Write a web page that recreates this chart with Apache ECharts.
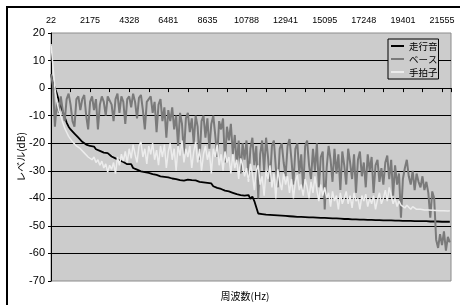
<!DOCTYPE html>
<html>
<head>
<meta charset="utf-8">
<script src="https://cdn.jsdelivr.net/npm/echarts@6/dist/echarts.min.js"></script>
<style>
  html, body { margin: 0; padding: 0; background: #fff; }
  #chart { width: 460px; height: 305px; }
</style>
</head>
<body>
<div id="chart"></div>
<script>
// frequency labels shown along the top, one every 100 FFT bins
const FREQ_LABELS = ['22', '2175', '4328', '6481', '8635', '10788', '12941', '15095', '17248', '19401', '21555'];
const SERIES_NAMES = ['走行音', 'ベース', '手拍子'];
// one reading every 5 bins (bin 0 = 22 Hz), level in dB
const BIN_STEP = 5;

const RUNNING = [
  5, 2, 0, -2, -4.5, -6.5, -8.5, -10.5, -12.5, -14,
  -15, -15.5, -16.5, -17, -18, -18.5, -19.5, -19.8, -20.5, -20.5,
  -21, -21.6, -21.2, -22.2, -21.8, -22.8, -22.4, -23.4, -23, -23.6,
  -23.8, -24.8, -24.2, -25.5, -25, -26.2, -25.8, -26.8, -26.4, -27.6,
  -28, -27.6, -29, -28.5, -29.6, -29, -30.2, -29.6, -30.5, -30,
  -30.8, -30.2, -31.2, -30.6, -31.5, -31, -32, -31.4, -32.2, -31.6,
  -32.4, -32, -32.8, -32.2, -33, -32.6, -33.4, -32.8, -33.6, -33,
  -33.2, -32.6, -33.4, -32.8, -33.5, -33, -34, -33.4, -34.2, -34.6,
  -34.4, -35, -34.6, -35.6, -35.2, -36.2, -35.8, -36.6, -36.2, -37.2,
  -36.8, -37.5, -37, -38, -37.6, -38.5, -38, -38.8, -38.2, -39,
  -39.5, -38.8, -40.2, -39.4, -41, -40.5,
  -45.5, -45.6, -45.7, -45.8, -45.9, -46, -46, -46.1, -46.1, -46.2,
  -46.2, -46.3, -46.3, -46.4, -46.4, -46.5, -46.5, -46.5, -46.6, -46.6,
  -46.7, -46.7, -46.7, -46.8, -46.8, -46.8, -46.9, -46.9, -46.9, -47,
  -47, -47, -47.1, -47.1, -47.1, -47.2, -47.2, -47.2, -47.3, -47.3,
  -47.3, -47.4, -47.4, -47.4, -47.5, -47.5, -47.5, -47.5, -47.6, -47.6,
  -47.6, -47.6, -47.7, -47.7, -47.7, -47.7, -47.8, -47.8, -47.8, -47.8,
  -47.9, -47.9, -47.9, -47.9, -48, -48, -48, -48, -48, -48.1,
  -48.1, -48.1, -48.1, -48.1, -48.2, -48.2, -48.2, -48.2, -48.2, -48.2,
  -48.3, -48.3, -48.3, -48.3, -48.3, -48.3, -48.3, -48.4, -48.4, -48.4,
  -48.4, -48.4, -48.4, -48.4, -48.5, -48.5, -48.5, -48.5, -48.5
];

const BASS = [
  5, 1, -14, -5, -9, -3, -8, -12, -4, -2,
  -6, -12, -14, -4, -3, -8, -4, -2.5, -10, -15,
  -5, -3, -8, -4, -15, -6, -3, -5, -10, -3,
  -2.5, -6, -12, -4, -2, -9, -3, -5, -13, -4,
  -3, -7, -2, -5, -11, -3.5, -2.5, -8, -15, -5,
  -4, -3, -9, -5, -16, -6, -4, -12, -7, -18,
  -8, -12, -7, -15, -10, -21, -9, -13, -24, -11,
  -9, -16, -11, -20, -10, -14, -26, -12, -10, -18,
  -11, -22, -13, -10, -17, -25, -12, -15, -11, -27,
  -14, -19, -13, -24, -17, -28, -19, -31, -20, -26,
  -19, -33, -22, -18, -28, -21, -40, -24, -19, -30,
  -18, -25, -34, -21, -19, -29, -36, -22, -20, -27,
  -32, -21, -18.5, -26, -35, -22, -20, -31, -24, -37,
  -21, -19, -28, -33, -22, -30, -20, -36, -25, -23,
  -44, -29, -21, -26, -34, -22, -31, -24, -37, -23,
  -28, -35, -22, -27, -33, -24, -38, -26, -23, -32,
  -27, -36, -24, -30, -25, -38, -28, -26, -34, -29,
  -35, -27, -24.5, -33, -26, -39, -28, -35, -31, -47,
  -33, -29, -26, -32, -35, -30, -37, -31, -34, -36,
  -32, -37, -34, -38, -47, -37.5, -40, -55, -58, -53,
  -57, -52, -59, -54, -56
];

const CLAP = [
  16, 8, 0, -5, -8, -10, -12.5, -14.5, -16, -17.5,
  -18, -19.5, -19, -21, -20.5, -22, -21.5, -23.5, -23, -25,
  -24.5, -26, -25, -27, -26, -28, -26.5, -29, -27.5, -30.5,
  -28, -29.5, -27, -31, -25, -28, -24, -26.5, -23, -27,
  -22, -25.5, -20.5, -24, -27, -21, -19.5, -25, -22, -27.5,
  -21, -24, -20, -26, -22.5, -28, -21, -25, -20.5, -29,
  -23, -20, -26, -22, -30, -21, -24.5, -19, -27, -22,
  -25, -21, -29, -23, -19.5, -27, -22, -30, -24, -21,
  -26, -23, -31, -22, -25, -20.5, -28, -24, -30, -23,
  -27, -25, -31, -24, -29, -26, -33, -25.5, -28, -32,
  -29, -34, -27.5, -31, -37, -30, -28, -35, -32, -39,
  -30, -33, -28, -36, -31, -40, -29.5, -34, -37, -31,
  -35, -32, -38, -33, -40, -34, -31.5, -37, -35, -39,
  -33, -36, -40, -34, -38, -32, -37, -41, -35, -39,
  -36, -40, -38, -43, -37.5, -41, -39, -44, -38, -42,
  -40, -37.5, -42, -39, -43.5, -38, -41, -40, -44, -39,
  -41, -38.5, -43, -40, -42, -39, -44, -40.5, -38, -42,
  -40, -37, -41, -36, -39, -42, -40, -43, -41, -42.5,
  -42, -43.5, -42.5, -43, -44, -43, -43.5, -44, -43.5, -44,
  -44, -44.2, -43.8, -44.2, -44, -44.3, -44.1, -44.4, -44.2, -44.5,
  -44.3, -44.5, -44.4, -44.6, -44.5
];

const toPoints = (levels) => levels.map((v, i) => [i * BIN_STEP, v]);

var chart = echarts.init(document.getElementById('chart'), null, { renderer: 'canvas' });

var options = {
  animation: false,
  textStyle: { fontFamily: '"Liberation Sans", Arial, "Noto Sans CJK JP", sans-serif' },
  grid: {
    left: 51, right: 9, top: 33, bottom: 24,
    show: true,
    backgroundColor: '#cccccc',
    borderColor: '#8c8c8c',
    borderWidth: 1
  },
  legend: {
    orient: 'vertical',
    left: 388, top: 39,
    padding: [1, 1, 1, 3],
    itemGap: 1,
    itemWidth: 13,
    itemHeight: 2,
    icon: 'rect',
    backgroundColor: '#cccccc',
    borderColor: '#000',
    borderWidth: 1,
    borderRadius: 0,
    textStyle: { fontSize: 9.5, color: '#000', lineHeight: 12, fontFamily: '"Noto Sans CJK JP", sans-serif' },
    data: SERIES_NAMES
  },
  xAxis: [
    {
      type: 'value',
      min: 0, max: 1023, interval: 50,
      position: 'bottom',
      axisLine: { onZero: true, lineStyle: { color: '#000', width: 1 } },
      axisTick: { show: true, length: 4, lineStyle: { color: '#000' } },
      axisLabel: { show: false },
      splitLine: { show: false }
    },
    {
      type: 'value',
      min: 0, max: 1023, interval: 100,
      position: 'top',
      axisLine: { show: false, onZero: false },
      axisTick: { show: false },
      splitLine: { show: false },
      axisLabel: {
        fontSize: 9, color: '#000', margin: 8,
        formatter: (v) => FREQ_LABELS[v / 100] || ''
      }
    }
  ],
  yAxis: {
    type: 'value',
    min: -70, max: 20, interval: 10,
    axisLine: { show: true, lineStyle: { color: '#000', width: 1 } },
    axisTick: { show: true, length: 3, lineStyle: { color: '#000' } },
    axisLabel: { fontSize: 11, color: '#000', margin: 6 },
    splitLine: { show: true, showMinLine: false, showMaxLine: false, lineStyle: { color: '#000', width: 1 } }
  },
  graphic: [
    {
      type: 'rect', silent: true,
      shape: { x: 7, y: 7, width: 470, height: 320 },
      style: { fill: 'none', stroke: '#000', lineWidth: 2 }
    },
    {
      type: 'text', silent: true,
      x: 245, y: 296,
      style: { text: '周波数(Hz)', fontSize: 10, fill: '#000', align: 'center', verticalAlign: 'middle', fontFamily: '"Noto Sans CJK JP", sans-serif' }
    },
    {
      type: 'text', silent: true,
      x: 21, y: 157, rotation: Math.PI / 2,
      style: { text: 'レベル(dB)', fontSize: 10, fill: '#000', align: 'center', verticalAlign: 'middle', fontFamily: '"Noto Sans CJK JP", sans-serif' }
    }
  ],
  series: [
    {
      name: SERIES_NAMES[0], type: 'line', xAxisIndex: 0,
      showSymbol: false, symbol: 'none',
      color: '#000000', lineStyle: { width: 1.8 },
      data: toPoints(RUNNING)
    },
    {
      name: SERIES_NAMES[1], type: 'line', xAxisIndex: 0,
      showSymbol: false, symbol: 'none',
      color: '#7a7a7a', lineStyle: { width: 2 },
      data: toPoints(BASS)
    },
    {
      name: SERIES_NAMES[2], type: 'line', xAxisIndex: 0,
      showSymbol: false, symbol: 'none',
      color: '#ececec', lineStyle: { width: 1.5 },
      data: toPoints(CLAP)
    }
  ]
};
chart.setOption(options);
</script>
</body>
</html>
